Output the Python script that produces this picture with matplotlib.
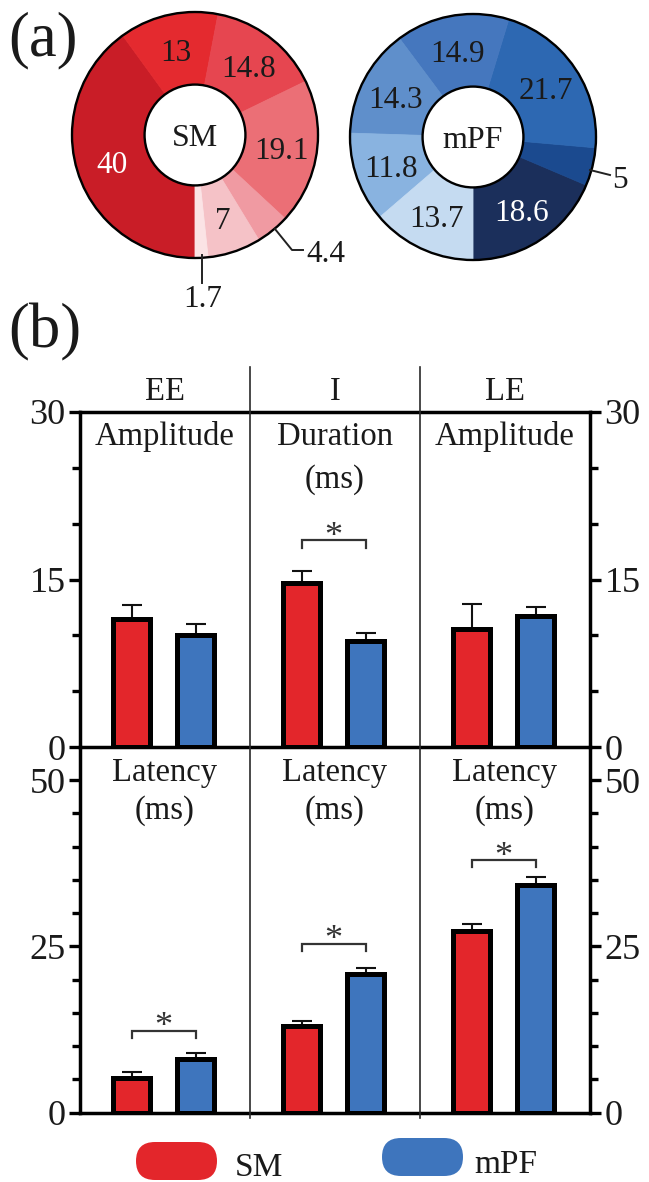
import matplotlib
matplotlib.use("Agg")
import matplotlib.pyplot as plt
import numpy as np
from matplotlib.patches import Circle, FancyBboxPatch

plt.rcParams['font.family'] = ['Liberation Serif', 'DejaVu Serif']

W, H, DPI = 649, 1182, 100

# ---------------- data ----------------
sm_values = [40, 13, 14.8, 19.1, 4.4, 7, 1.7]
sm_labels = ['40', '13', '14.8', '19.1', '4.4', '7', '1.7']
sm_colors = ['#C91D27', '#E42A2F', '#E64650', '#EB6F76', '#F09AA2', '#F5C2C7', '#FBE3E5']

mpf_values = [18.6, 5, 21.7, 14.9, 14.3, 11.8, 13.7]
mpf_labels = ['18.6', '5', '21.7', '14.9', '14.3', '11.8', '13.7']
mpf_colors = ['#1B2F5B', '#1B4A8F', '#2D68B2', '#4577BE', '#5F8FCB', '#89B3E0', '#C5DBF1']

panels = ['EE', 'I', 'LE']
top_measures = [['Amplitude'], ['Duration', '(ms)'], ['Amplitude']]
bot_measures = [['Latency', '(ms)'], ['Latency', '(ms)'], ['Latency', '(ms)']]

top_sm = [11.5, 14.7, 10.6]
top_sm_err = [1.25, 1.1, 2.25]
top_mpf = [10.0, 9.5, 11.7]
top_mpf_err = [1.05, 0.7, 0.8]
top_sig = [None, 18.5, None]
top_ticks = [0, 15, 30]

bot_sm = [5.2, 13.0, 27.3]
bot_sm_err = [0.9, 0.75, 1.05]
bot_mpf = [8.05, 20.8, 34.2]
bot_mpf_err = [0.9, 0.9, 1.2]
bot_sig = [12.3, 25.4, 38.0]
bot_ticks = [0, 25, 50]

legend_labels = ['SM', 'mPF']

RED = '#E3262B'
BLUE = '#3E75BD'
TXT = '#1A1A1A'

fig = plt.figure(figsize=(W / DPI, H / DPI), dpi=DPI)


def rect(x0, y0, x1, y1):
    return [x0 / W, 1 - y1 / H, (x1 - x0) / W, (y1 - y0) / H]


# ---------------- donuts ----------------
R_PX = 123.0
HALF = 130.0


def donut(cx, cy, values, labels, colors, name, counterclock, white):
    ax = fig.add_axes(rect(cx - HALF, cy - HALF, cx + HALF, cy + HALF))
    wedges, _ = ax.pie(values, colors=colors, startangle=270,
                       counterclock=counterclock, radius=1.0,
                       wedgeprops=dict(width=0.59, linewidth=0.6))
    for w in wedges:
        w.set_edgecolor(w.get_facecolor())
    ax.add_patch(Circle((0, 0), 1.0, fill=False, ec='black', lw=1.7, zorder=5))
    ax.add_patch(Circle((0, 0), 0.41, fc='white', ec='black', lw=1.7, zorder=5))
    ax.text(0, 0, name, ha='center', va='center_baseline', fontsize=23,
            color=TXT, zorder=6)
    for w, v, lab in zip(wedges, values, labels):
        if v <= 5:
            continue
        th = np.deg2rad((w.theta1 + w.theta2) / 2)
        r = 0.71
        ax.text(r * np.cos(th), r * np.sin(th), lab, ha='center',
                va='center_baseline', fontsize=22.5,
                color='white' if lab in white else TXT, zorder=6)
    lim = HALF / R_PX
    ax.set_xlim(-lim, lim)
    ax.set_ylim(-lim, lim)
    ax.set_aspect('equal')
    ax.axis('off')
    return ax


donut(195, 135, sm_values, sm_labels, sm_colors, 'SM', False, ['40'])
donut(473, 137, mpf_values, mpf_labels, mpf_colors, 'mPF', True, ['18.6'])

# ---------------- bar rows ----------------
X0, X1 = 80.0, 590.0
BW = 0.216
OFF_SM, OFF_MPF = 0.305, 0.68
STAR_FS = 26


def bar_row(y0, y1, ymax, sm, sm_err, mpf, mpf_err, sig, ticks, top_spine):
    ax = fig.add_axes(rect(X0, y0, X1, y1))
    ppu = (y1 - y0) / ymax  # pixels per unit
    idx = np.arange(len(panels))
    xs = idx + OFF_SM
    xm = idx + OFF_MPF
    ax.errorbar(xs, sm, yerr=[np.zeros(len(sm)), sm_err], fmt='none',
                ecolor='#111111', elinewidth=1.5, capsize=7.5, capthick=1.5, zorder=2)
    ax.errorbar(xm, mpf, yerr=[np.zeros(len(mpf)), mpf_err], fmt='none',
                ecolor='#111111', elinewidth=1.5, capsize=7.5, capthick=1.5, zorder=2)
    ax.bar(xs, sm, width=BW, color=RED, edgecolor='black', linewidth=3.6, zorder=3)
    ax.bar(xm, mpf, width=BW, color=BLUE, edgecolor='black', linewidth=3.6, zorder=3)
    leg = 7.5 / ppu
    for i, y in enumerate(sig):
        if y is None:
            continue
        ax.plot([xs[i], xs[i], xm[i], xm[i]], [y - leg, y, y, y - leg],
                color='#333333', lw=1.6, solid_joinstyle='miter', zorder=4)
        ax.annotate('*', xy=((xs[i] + xm[i]) / 2, y),
                    xytext=(0, 9.4 - 0.52 * STAR_FS),
                    textcoords='offset points', ha='center', va='baseline',
                    fontsize=STAR_FS, color='#333333')
    ax.set_xlim(0, len(panels))
    ax.set_ylim(0, ymax)
    ax.set_xticks([])
    ax.set_yticks(ticks)
    ax.set_yticks(np.arange(0, ticks[-1] + 1, 5), minor=True)
    ax.tick_params(axis='y', which='both', left=True, right=True,
                   labelleft=True, labelright=True, direction='out',
                   width=2.4, labelsize=26, pad=2.5, colors='black',
                   labelcolor=TXT)
    ax.tick_params(axis='y', which='major', length=8)
    ax.tick_params(axis='y', which='minor', length=5.5)
    for s in ['left', 'right', 'bottom', 'top']:
        ax.spines[s].set_linewidth(2.5)
    ax.spines['top'].set_visible(top_spine)
    ax.patch.set_alpha(0)
    return ax


bar_row(412.0, 747.0, 30, top_sm, top_sm_err, top_mpf, top_mpf_err,
        top_sig, top_ticks, True)
bar_row(747.0, 1112.5, 55, bot_sm, bot_sm_err, bot_mpf, bot_mpf_err,
        bot_sig, bot_ticks, False)

# ---------------- overlay (annotations) ----------------
ov = fig.add_axes([0, 0, 1, 1])
ov.set_xlim(0, W)
ov.set_ylim(H, 0)
ov.axis('off')
ov.patch.set_alpha(0)

pw = (X1 - X0) / len(panels)
for i in range(1, len(panels)):
    xd = X0 + i * pw
    ov.plot([xd, xd], [367, 1118], color='#2A2A2A', lw=1.2)

for i, p in enumerate(panels):
    xc = X0 + (i + 0.5) * pw
    ov.text(xc, 400, p, ha='center', va='baseline', fontsize=23.5, color=TXT)
    for j, line in enumerate(top_measures[i]):
        ov.text(xc, 445 + j * 43, line, ha='center', va='baseline', fontsize=23.5, color=TXT)
    for j, line in enumerate(bot_measures[i]):
        ov.text(xc, 781 + j * 38, line, ha='center', va='baseline', fontsize=23.5, color=TXT)

# leader lines for small slices
ov.plot([275, 292, 303], [229, 250, 250], color='#222222', lw=1.4)
ov.text(306, 262, sm_labels[4], ha='left', va='baseline', fontsize=22.5, color=TXT)
ov.plot([202, 202], [255, 283], color='#222222', lw=1.4)
ov.text(203, 307, sm_labels[6], ha='center', va='baseline', fontsize=22.5, color=TXT)
ov.plot([590, 610], [170, 175], color='#222222', lw=1.4)
ov.text(612, 188, mpf_labels[1], ha='left', va='baseline', fontsize=22.5, color=TXT)

# panel labels
ov.text(8, 55, '(a)', ha='left', va='baseline', fontsize=45, color=TXT)
ov.text(8, 347, '(b)', ha='left', va='baseline', fontsize=45, color=TXT)

# legend
ov.add_patch(FancyBboxPatch((136, 1142), 81, 38,
                            boxstyle='round,pad=0,rounding_size=19',
                            fc=RED, ec='none'))
ov.text(235, 1176, legend_labels[0], ha='left', va='baseline', fontsize=24, color=TXT)
ov.add_patch(FancyBboxPatch((382, 1138), 81, 38,
                            boxstyle='round,pad=0,rounding_size=19',
                            fc=BLUE, ec='none'))
ov.text(474, 1173, legend_labels[1], ha='left', va='baseline', fontsize=24, color=TXT)

fig.savefig('out.png', dpi=DPI)
